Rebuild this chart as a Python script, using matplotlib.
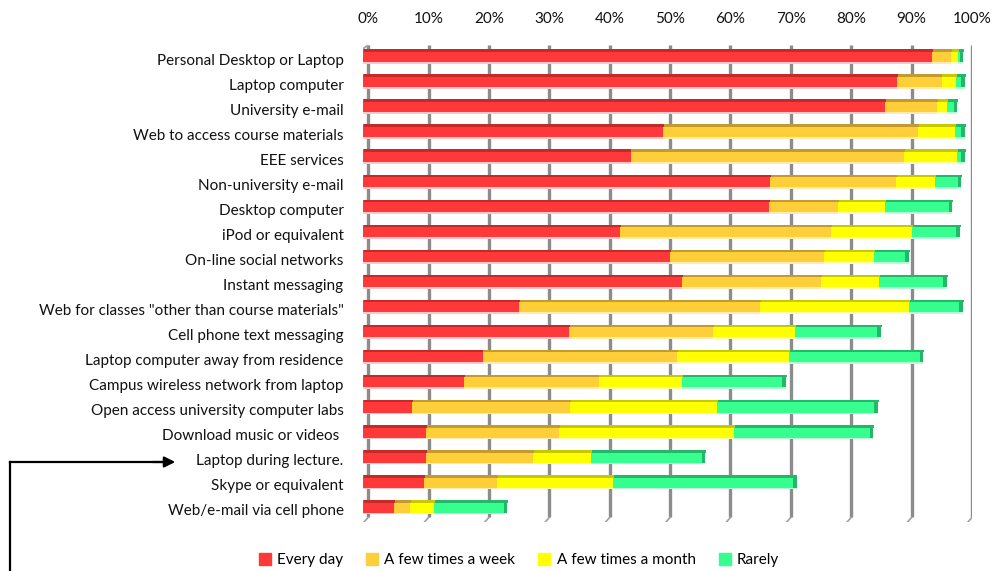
import numpy as np
import matplotlib.pyplot as plt
from matplotlib.lines import Line2D

categories = [
    'Personal Desktop or Laptop',
    'Laptop computer',
    'University e-mail',
    'Web to access course materials',
    'EEE services',
    'Non-university e-mail',
    'Desktop computer',
    'iPod or equivalent',
    'On-line social networks',
    'Instant messaging',
    'Web for classes "other than course materials"',
    'Cell phone text messaging',
    'Laptop computer away from residence',
    'Campus wireless network from laptop',
    'Open access university computer labs',
    'Download music or videos ',
    'Laptop during lecture.',
    'Skype or equivalent',
    'Web/e-mail via cell phone',
]

every_day = [94.3, 88.4, 86.4, 49.7, 44.3, 67.4, 67.2, 42.5, 50.9, 52.9,
             25.8, 34.1, 19.8, 16.7, 8.1, 10.5, 10.5, 10.1, 5.2]
few_week = [3.1, 7.4, 8.7, 42.2, 45.3, 20.9, 11.5, 35.0, 25.5, 22.9,
            40.0, 23.8, 32.2, 22.3, 26.2, 22.0, 17.7, 12.1, 2.6]
few_month = [1.2, 2.4, 1.6, 6.2, 8.8, 6.5, 7.8, 13.4, 8.3, 9.7,
             24.7, 13.6, 18.5, 13.9, 24.4, 29.0, 9.5, 19.2, 4.0]
rarely = [0.8, 1.5, 1.7, 1.6, 1.3, 4.3, 11.1, 7.9, 5.7, 11.2,
          8.8, 14.3, 22.3, 17.1, 26.6, 23.0, 19.0, 30.4, 12.1]

series_names = ['Every day', 'A few times a week', 'A few times a month', 'Rarely']
series = [every_day, few_week, few_month, rarely]
colors = ['#FF3939', '#FFCF3A', '#FFFF00', '#36FF8F']
dark = ['#C42A2A', '#C29A2E', '#C8C800', '#22B868']
light = ['#FFC8C8', '#FFEBB0', '#FFFFA8', '#B8FFD8']

tick_vals = np.arange(0, 101, 10)
tick_labels = [f'{t}%' for t in tick_vals]

plt.rcParams['font.family'] = ['Lato', 'DejaVu Sans']

fig = plt.figure(figsize=(9.94, 5.71), dpi=100)
ax = fig.add_axes([363 / 994, 1 - 522 / 571, 609 / 994, 477 / 571])

n = len(categories)
y = np.arange(n)
depth = 0.85   # 3d offset of the back wall, in % units
yoff = -0.14   # bars sit slightly above the label
h = 0.5

# grid lines (back wall) with slanted floor tails
for t in tick_vals:
    ax.plot([t + depth, t + depth], [-0.56, n - 0.7], color='#8C8C8C', lw=2.4,
            zorder=0, solid_capstyle='butt')
    ax.plot([t + depth, t + 0.1], [n - 0.7, n - 0.5], color='#A0A0A0', lw=1.2, zorder=0)
# left wall edge
ax.plot([-0.6, -0.6], [-0.3, n - 0.45], color='#A8A8A8', lw=2.2, zorder=0)
ax.plot([-0.6, depth], [-0.3, -0.56], color='#A8A8A8', lw=1.5, zorder=0)

left = np.zeros(n)
for vals, c, dc, lc in zip(series, colors, dark, light):
    vals = np.array(vals)
    # bottom light shadow
    ax.barh(y + yoff + h / 2 + 0.03, vals, left=left, height=0.08, color=lc,
            linewidth=0, zorder=2)
    ax.barh(y + yoff, vals, left=left, height=h, color=c, linewidth=0, zorder=3)
    # darker top face
    ax.barh(y + yoff - h / 2 + 0.05, vals, left=left + 0.15, height=0.1, color=dc,
            linewidth=0, zorder=4)
    left = left + vals

# dark end caps on the last segment
ax.barh(y + yoff, 0.6, left=left - 0.6, height=h, color=dark[3], linewidth=0, zorder=5)

ax.set_xlim(0, 100)
ax.set_ylim(n - 0.52, -0.56)
ax.set_yticks(y)
ax.set_yticklabels(categories, fontsize=11, color='#111111')
ax.xaxis.tick_top()
ax.set_xticks(tick_vals + depth)
ax.set_xticklabels(tick_labels, fontsize=11, color='#111111')
ax.tick_params(axis='x', length=0, pad=14)
ax.tick_params(axis='y', length=0, pad=14)
for s in ax.spines.values():
    s.set_visible(False)

handles = [plt.Rectangle((0, 0), 1, 1, color=c) for c in colors]
fig.legend(handles, series_names, loc='center', bbox_to_anchor=(0.522, 1 - 560 / 571),
           ncol=4, frameon=False, fontsize=11, handlelength=0.8, handleheight=0.8,
           handletextpad=0.4, columnspacing=1.5)

# pointer arrow to "Laptop during lecture."
ya = 1 - 462 / 571
fig.add_artist(Line2D([10 / 994, 10 / 994], [0, ya], color='black', lw=1.6))
fig.add_artist(Line2D([10 / 994, 170 / 994], [ya, ya], color='black', lw=1.6))
ax.annotate('', xy=(178 / 994, ya), xycoords='figure fraction',
            xytext=(150 / 994, ya), textcoords='figure fraction',
            arrowprops=dict(arrowstyle='-|>', color='black', lw=1.6, mutation_scale=16))

fig.savefig('out.png', dpi=100)
